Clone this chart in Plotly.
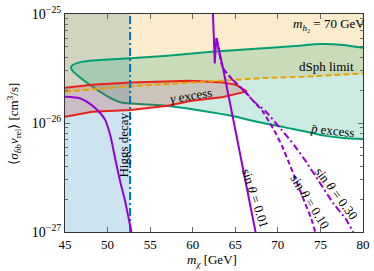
import plotly.graph_objects as go

# ---------------- data ----------------
x_ticks = [45, 50, 55, 60, 65, 70, 75, 80]
y_tickvals = [1e-27, 1e-26, 1e-25]
y_ticktext = ["10<sup>−27</sup>", "10<sup>−26</sup>", "10<sup>−25</sup>"]

higgs_mass = 52.65

dsph_m = [45, 48.2, 52.7, 57.05, 63.6, 68.5, 73.1, 80]
dsph_sv = [1.93e-26, 2.03e-26, 2.17e-26, 2.28e-26, 2.44e-26, 2.59e-26, 2.66e-26, 2.85e-26]

pbar_upper_m = [80, 77.7, 75.1, 72.0, 67.4, 62.2, 57.05, 52.7, 48.2, 46.7, 45.9, 45.7]
pbar_upper_sv = [4.89e-26, 5.2e-26, 5.3e-26, 5.09e-26, 4.79e-26, 4.5e-26, 4.15e-26, 3.93e-26, 3.74e-26, 3.6e-26, 3.4e-26, 3.24e-26]
pbar_lower_m = [45.9, 46.7, 48.2, 50.2, 51.5, 52.7, 55.9, 60.5, 65.1, 67.4, 70.8, 73.1, 75.4, 77.7, 80]
pbar_lower_sv = [3.0e-26, 2.64e-26, 2.16e-26, 1.72e-26, 1.55e-26, 1.506e-26, 1.46e-26, 1.318e-26, 1.14e-26, 1.03e-26, 0.912e-26, 0.84e-26, 0.766e-26, 0.728e-26, 0.713e-26]

gamma_upper_m = [45, 48.2, 52.7, 57.05, 59.7, 63.6, 65.1, 66.35]
gamma_upper_sv = [2.11e-26, 2.24e-26, 2.35e-26, 2.40e-26, 2.436e-26, 2.35e-26, 2.24e-26, 1.95e-26]
gamma_lower_m = [63.6, 59.7, 57.05, 52.7, 48.2, 45]
gamma_lower_sv = [1.73e-26, 1.595e-26, 1.44e-26, 1.318e-26, 1.265e-26, 1.14e-26]

sin001_left_m = [45.0, 46.72, 47.98, 48.9, 49.7, 50.34, 50.91, 51.48, 52.06, 52.52, 52.8]
sin001_left_sv = [1.738e-26, 1.686e-26, 1.49e-26, 1.29e-26, 1.074e-26, 0.759e-26, 0.464e-26, 0.29e-26, 0.192e-26, 0.128e-26, 0.1e-26]

sin001_res_m = [62.37, 62.5, 62.59, 62.71, 62.79, 63.02, 63.56, 64.7, 66.23, 67.38]
sin001_res_sv = [1.05e-25, 5.09e-26, 3.52e-26, 5.09e-26, 6.0e-26, 4.89e-26, 3.18e-26, 1.14e-26, 0.29e-26, 0.1e-26]

sin010_m = [62.79, 63.02, 63.56, 64.7, 66.23, 67.15, 68.18, 69.56, 70.48, 71.28, 72.2, 73.23, 73.92, 74.38]
sin010_sv = [6.0e-26, 4.89e-26, 3.18e-26, 2.49e-26, 1.905e-26, 1.58e-26, 1.29e-26, 0.858e-26, 0.618e-26, 0.437e-26, 0.29e-26, 0.181e-26, 0.133e-26, 0.1e-26]

sin030_m = [62.79, 63.02, 63.56, 64.7, 66.23, 67.15, 68.52, 70.48, 71.97, 73.35, 74.84, 76.56, 77.94, 78.86]
sin030_sv = [6.0e-26, 4.89e-26, 3.18e-26, 2.49e-26, 1.905e-26, 1.58e-26, 1.29e-26, 0.858e-26, 0.618e-26, 0.437e-26, 0.29e-26, 0.181e-26, 0.133e-26, 0.1e-26]

x_range = [45, 80]
y_range_log = [-27, -25]

# ---------------- colours ----------------
PURPLE = "#9400D3"
GREEN = "#009E73"
RED = "#E8211C"
ORANGE = "#E69F00"
BLUE = "#0072B2"
FONT = "Liberation Serif"

fig = go.Figure()

# Higgs-decay excluded region (blue)
fig.add_trace(go.Scatter(
    x=[x_range[0], higgs_mass, higgs_mass, x_range[0]],
    y=[1e-27, 1e-27, 1e-25, 1e-25],
    fill="toself", fillcolor="rgba(0,114,178,0.2)", line=dict(width=0),
    mode="lines", hoverinfo="skip", showlegend=False))

# dSph excluded region (peach)
fig.add_trace(go.Scatter(
    x=dsph_m + [x_range[1], x_range[0]],
    y=dsph_sv + [1e-25, 1e-25],
    fill="toself", fillcolor="rgba(230,159,0,0.2)", line=dict(width=0),
    mode="lines", hoverinfo="skip", showlegend=False))

# pbar excess region (green)
fig.add_trace(go.Scatter(
    x=pbar_upper_m + pbar_lower_m, y=pbar_upper_sv + pbar_lower_sv,
    fill="toself", fillcolor="rgba(0,158,115,0.2)",
    line=dict(color=GREEN, width=2, shape="spline", smoothing=0.6),
    mode="lines", hoverinfo="skip", showlegend=False))

# gamma excess region (red)
fig.add_trace(go.Scatter(
    x=gamma_upper_m + gamma_lower_m, y=gamma_upper_sv + gamma_lower_sv,
    fill="toself", fillcolor="rgba(200,40,30,0.2)",
    line=dict(color=RED, width=2),
    mode="lines", hoverinfo="skip", showlegend=False))

# dSph limit line
fig.add_trace(go.Scatter(
    x=dsph_m, y=dsph_sv, mode="lines",
    line=dict(color=ORANGE, width=2, dash="6px,3px"),
    hoverinfo="skip", showlegend=False))

# Higgs decay line
fig.add_trace(go.Scatter(
    x=[higgs_mass, higgs_mass], y=[1e-27, 1e-25], mode="lines",
    line=dict(color=BLUE, width=2, dash="8px,3px,2px,3px"),
    hoverinfo="skip", showlegend=False))

# relic lines
fig.add_trace(go.Scatter(x=sin030_m, y=sin030_sv, mode="lines",
    line=dict(color=PURPLE, width=2, dash="7px,3px,2px,3px", shape="spline", smoothing=0.5),
    hoverinfo="skip", showlegend=False))
fig.add_trace(go.Scatter(x=sin010_m, y=sin010_sv, mode="lines",
    line=dict(color=PURPLE, width=2, dash="5px,3px", shape="spline", smoothing=0.5),
    hoverinfo="skip", showlegend=False))
fig.add_trace(go.Scatter(x=sin001_left_m, y=sin001_left_sv, mode="lines",
    line=dict(color=PURPLE, width=2, shape="spline", smoothing=0.6),
    hoverinfo="skip", showlegend=False))
fig.add_trace(go.Scatter(x=sin001_res_m, y=sin001_res_sv, mode="lines",
    line=dict(color=PURPLE, width=2),
    hoverinfo="skip", showlegend=False))

tfont = dict(family=FONT, size=13, color="black")
annotations = [
    dict(x=76.0, y=-25.098, text="<i>m</i><sub><i>h</i>₂</sub> = 70 GeV", textangle=0),
    dict(x=75.75, y=-25.48, text="dSph limit", textangle=0),
    dict(x=59.8, y=-25.747, text="<i>γ</i> excess", textangle=-9),
    dict(x=76.45, y=-26.067, text="<i>p̄</i> excess", textangle=6),
    dict(x=51.9, y=-26.2, text="Higgs decay", textangle=-90),
    dict(x=67.4, y=-26.689, text="sin <i>θ</i> = 0.01", textangle=72),
    dict(x=73.8, y=-26.716, text="sin <i>θ</i> = 0.10", textangle=58),
    dict(x=76.9, y=-26.644, text="sin <i>θ</i> = 0.30", textangle=53),
]
for a in annotations:
    a.update(xref="x", yref="y", showarrow=False, font=tfont,
             xanchor="center", yanchor="middle")

annotations.append(dict(
    xref="paper", yref="paper", x=0.492, y=-0.133, showarrow=False,
    text="<i>m</i><sub><i>χ</i></sub> [GeV]", font=tfont,
    xanchor="center", yanchor="middle"))
annotations.append(dict(
    xref="paper", yref="paper", x=-0.1705, y=0.498, showarrow=False,
    text="⟨<i>σ</i><sub><i>b̄b</i></sub><i>v</i><sub>rel</sub>⟩ [cm<sup>3</sup>/s]",
    font=tfont, textangle=-90, xanchor="center", yanchor="middle"))

fig.update_layout(
    width=374, height=271,
    margin=dict(l=65, r=4, t=7, b=39),
    paper_bgcolor="white", plot_bgcolor="white",
    font=dict(family=FONT, size=13, color="black"),
    annotations=annotations,
    showlegend=False,
)
fig.update_xaxes(
    range=x_range, tickvals=x_ticks, ticks="inside", ticklen=5,
    tickcolor="#666", showline=True, linecolor="#333", linewidth=1,
    mirror="ticks", showgrid=False, zeroline=False, ticklabeloverflow="allow",
    tickfont=dict(family=FONT, size=13))
fig.update_yaxes(
    type="log", range=y_range_log, tickvals=y_tickvals, ticktext=y_ticktext,
    ticks="inside", ticklen=5, tickcolor="#666", showline=True,
    linecolor="#333", linewidth=1, mirror="ticks", showgrid=False,
    zeroline=False, tickfont=dict(family=FONT, size=14), ticklabeloverflow="allow",
    minor=dict(ticks="inside", ticklen=3, tickcolor="#666", dtick="D1", showgrid=False))

fig.write_html("out.html", config={"displayModeBar": False},
               post_script="document.body.style.margin='0';document.body.style.padding='0';")
